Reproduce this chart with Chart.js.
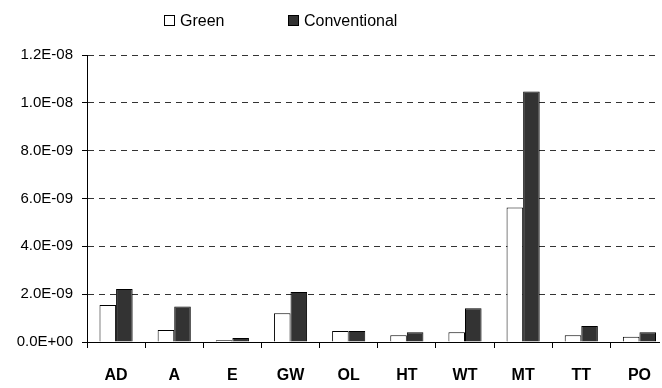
<!DOCTYPE html>
<html>
<head>
<meta charset="utf-8">
<script src="https://cdn.jsdelivr.net/npm/chart.js@4/dist/chart.umd.min.js"></script>
<style>
  html, body { margin: 0; padding: 0; background: #fff; overflow: hidden; }
  #wrap { position: relative; width: 660px; height: 388px; overflow: hidden; }
  #legend { position: absolute; top: 10px; left: 0; height: 22px; font-family: 'Liberation Sans', Arial, sans-serif; font-size: 16px; color: #000; }
  #legend .item { position: absolute; top: 0; white-space: nowrap; line-height: 22px; }
  #legend .box { display: inline-block; width: 9px; height: 9px; border: 1px solid #000; margin-right: 5px; vertical-align: 0px; }
</style>
</head>
<body>
<div id="wrap">
  <canvas id="lcaChart" width="669" height="388"></canvas>
  <div id="legend"></div>
</div>
<script>
// values
const categories = ['AD', 'A', 'E', 'GW', 'OL', 'HT', 'WT', 'MT', 'TT', 'PO'];
const green = [1.55e-9, 0.50e-9, 0.07e-9, 1.20e-9, 0.46e-9, 0.28e-9, 0.41e-9, 5.62e-9, 0.28e-9, 0.22e-9];
const conventional = [2.22e-9, 1.48e-9, 0.17e-9, 2.09e-9, 0.46e-9, 0.41e-9, 1.41e-9, 10.47e-9, 0.67e-9, 0.41e-9];
const yTicks = [0, 2e-9, 4e-9, 6e-9, 8e-9, 10e-9, 12e-9];

// 1.2E-08 style labels
function sciLabel(v) {
    let s = Number(v).toExponential(1).toUpperCase();
    let parts = s.split('E');
    let exp = parseInt(parts[1], 10);
    let sign = exp < 0 ? '-' : '+';
    let digits = String(Math.abs(exp)).padStart(2, '0');
    return parts[0] + 'E' + sign + digits;
}

const ctx = document.getElementById('lcaChart').getContext('2d');
const lcaChart = new Chart(ctx, {
    type: 'bar',
    data: {
        labels: categories,
        datasets: [{
            label: 'Green',
            data: green,
            backgroundColor: '#ffffff',
            borderColor: '#000000',
            borderWidth: 1
        }, {
            label: 'Conventional',
            data: conventional,
            backgroundColor: '#333333',
            borderColor: '#000000',
            borderWidth: 1
        }]
    },
    options: {
        responsive: false,
        animation: false,
        devicePixelRatio: 1,
        layout: { padding: { left: 0, right: 0, top: 55, bottom: 0 } },
        datasets: {
            bar: { categoryPercentage: 0.57, barPercentage: 1.0 }
        },
        scales: {
            x: {
                grid: {
                    offset: true,
                    drawOnChartArea: false,
                    drawTicks: true,
                    tickLength: 6,
                    color: '#000000'
                },
                border: { display: true, color: '#000000', width: 1 },
                ticks: {
                    color: '#000000',
                    padding: 18,
                    font: { family: 'Liberation Sans, Arial, sans-serif', size: 16, weight: 'bold' }
                },
                afterFit: function(scale) { scale.height = 46; }
            },
            y: {
                min: 0,
                max: 1.2e-8,
                afterBuildTicks: function(scale) {
                    scale.ticks = yTicks.map(v => ({ value: v }));
                },
                grid: {
                    color: '#333333',
                    tickLength: 5,
                    tickColor: '#000000',
                    tickBorderDash: [],
                    lineWidth: 1
                },
                border: { display: true, color: '#000000', width: 1, dash: [6, 5] },
                ticks: {
                    color: '#000000',
                    padding: 9,
                    font: { family: 'Liberation Sans, Arial, sans-serif', size: 15 },
                    callback: function(value) { return sciLabel(value); }
                },
                afterFit: function(scale) { scale.width = 87; }
            }
        },
        plugins: {
            legend: { display: false },
            tooltip: { enabled: false }
        }
    }
});

// html legend built from the datasets
const legendEl = document.getElementById('legend');
const legendLeft = [164, 288];
lcaChart.data.datasets.forEach(function(ds, i) {
    const item = document.createElement('div');
    item.className = 'item';
    item.style.left = legendLeft[i] + 'px';
    const box = document.createElement('span');
    box.className = 'box';
    box.style.background = ds.backgroundColor;
    item.appendChild(box);
    item.appendChild(document.createTextNode(ds.label));
    legendEl.appendChild(item);
});
</script>
</body>
</html>
